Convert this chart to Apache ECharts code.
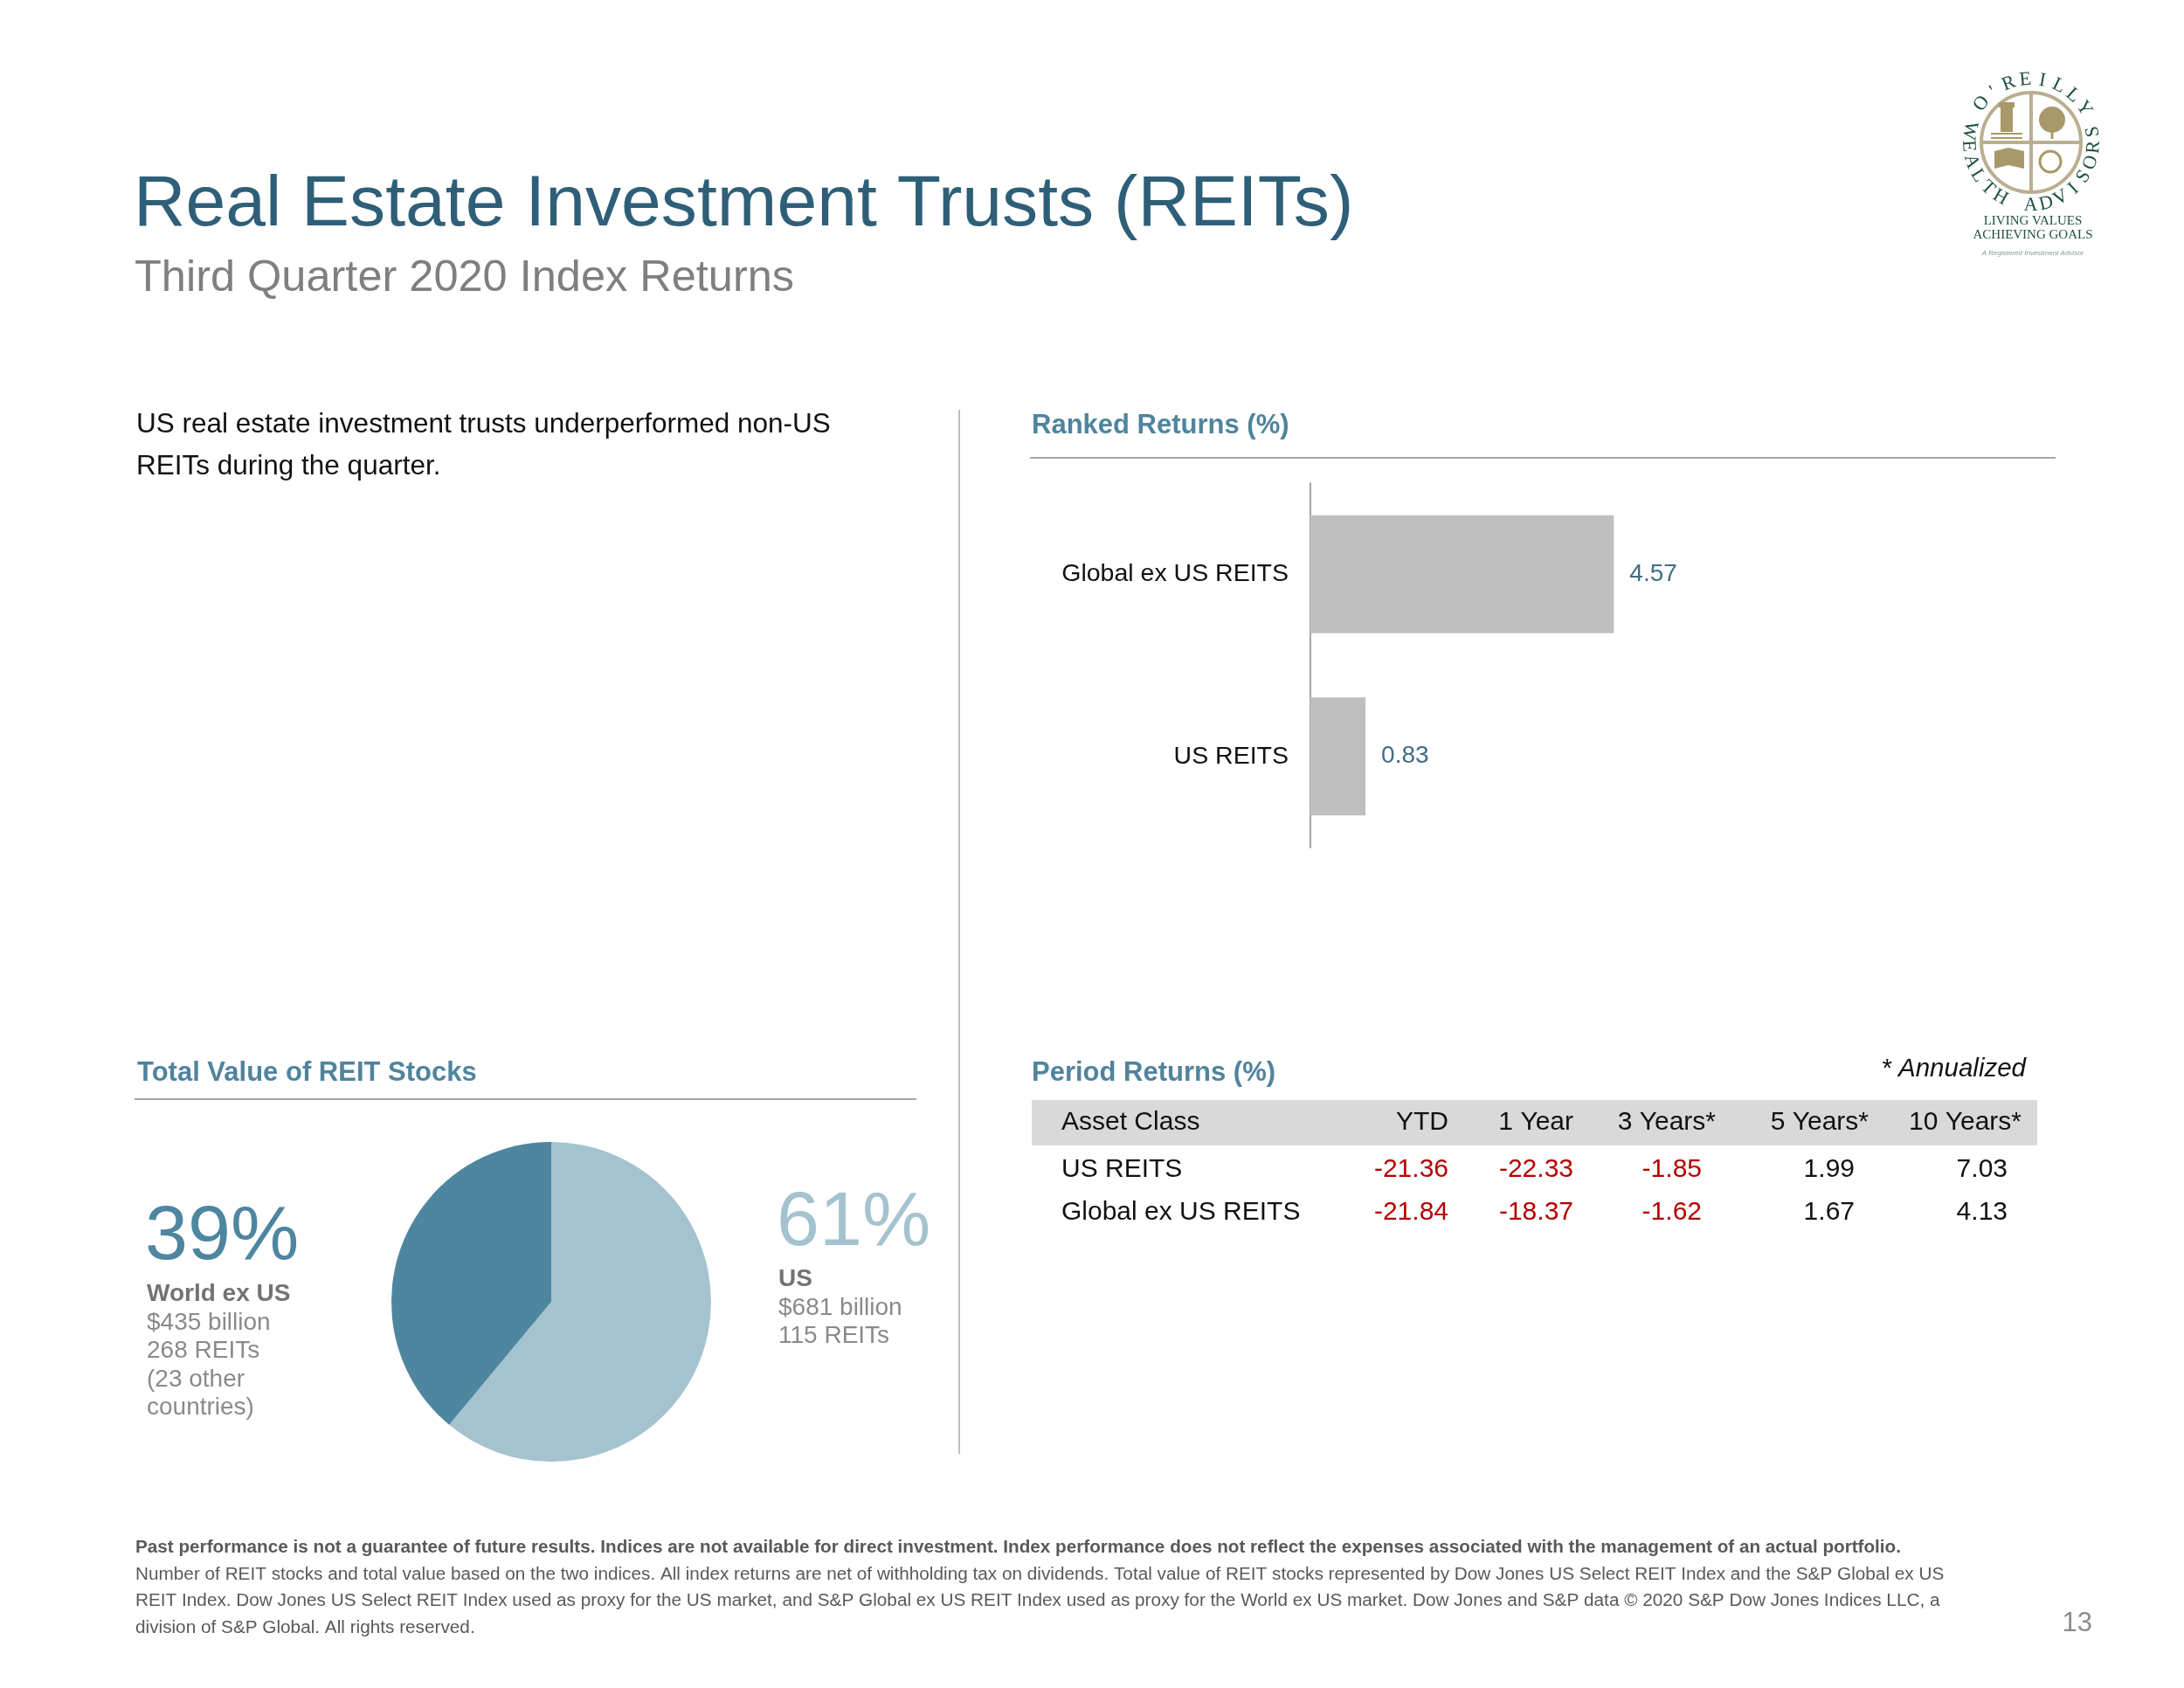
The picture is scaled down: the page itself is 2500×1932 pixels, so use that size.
<!DOCTYPE html>
<html><head><meta charset="utf-8">
<script src="https://cdn.jsdelivr.net/npm/echarts@6/dist/echarts.min.js"></script>
<style>html,body{margin:0;padding:0;background:#fff}#c{width:2500px;height:1932px}</style>
</head><body><div id="c"></div>
<script>
// ---------- DATA ----------
const rankedCategories = ['Global ex US REITS', 'US REITS'];
const rankedValues = [4.57, 0.83];

const pieNames = ['US', 'World ex US'];
const pieValues = [681, 435];           // $ billion
const piePercents = ['61%', '39%'];
const usDetails = ['$681 billion', '115 REITs'];
const worldDetails = ['$435 billion', '268 REITs', '(23 other', 'countries)'];

const tableHeaders = ['Asset Class', 'YTD', '1 Year', '3 Years*', '5 Years*', '10 Years*'];
const tableRowLabels = ['US REITS', 'Global ex US REITS'];
const tableValues = [
  [-21.36, -22.33, -1.85, 1.99, 7.03],
  [-21.84, -18.37, -1.62, 1.67, 4.13]
];

const titleText = 'Real Estate Investment Trusts (REITs)';
const subtitleText = 'Third Quarter 2020 Index Returns';
const descLines = ['US real estate investment trusts underperformed non-US', 'REITs during the quarter.'];
const footerBold = 'Past performance is not a guarantee of future results. Indices are not available for direct investment. Index performance does not reflect the expenses associated with the management of an actual portfolio.';
const footerLines = [
  'Number of REIT stocks and total value based on the two indices. All index returns are net of withholding tax on dividends. Total value of REIT stocks represented by Dow Jones US Select REIT Index and the S&P Global ex US',
  'REIT Index. Dow Jones US Select REIT Index used as proxy for the US market, and S&P Global ex US REIT Index used as proxy for the World ex US market. Dow Jones and S&P data \u00a9 2020 S&P Dow Jones Indices LLC, a',
  'division of S&P Global. All rights reserved.'
];

// ---------- STYLE ----------
const FONT = '"Liberation Sans", Arial, sans-serif';
const NARROW = '"Liberation Sans Narrow", "Arial Narrow", "Liberation Sans", sans-serif';
const SERIF = '"Liberation Serif", "DejaVu Serif", serif';
const TEAL_DARK = '#2F5F78';
const TEAL_SEC = '#4F849D';
const PIE_DARK = '#4E86A0';
const PIE_LIGHT = '#A5C3CF';
const GRAY = '#7F7F7F';

const g = [];
function txt(text, x, y, o) {
  o = o || {};
  g.push({
    type: 'text', x: x, y: y, rotation: o.rotation || 0, silent: true,
    style: {
      text: text,
      fill: o.color || '#000',
      fontSize: o.size || 27,
      fontFamily: o.family || FONT,
      fontWeight: o.weight || 'normal',
      fontStyle: o.style || 'normal',
      align: o.align || 'left',
      verticalAlign: 'middle'
    }
  });
}
function line(x1, y1, x2, y2, color, w) {
  g.push({ type: 'line', silent: true, shape: { x1: x1, y1: y1, x2: x2, y2: y2 }, style: { stroke: color, lineWidth: w } });
}

// Title block
txt(titleText, 153, 235, { size: 82.3, color: TEAL_DARK });
txt(subtitleText, 154, 319, { size: 50.5, color: GRAY });

// Description
descLines.forEach((l, i) => txt(l, 156, 486 + i * 48, { size: 31.5, color: '#111' }));

// Divider
line(1098, 469, 1098, 1664, '#BFBFBF', 2);

// Section titles
txt('Ranked Returns (%)', 1181, 487, { size: 31, weight: 'bold', color: TEAL_SEC });
line(1179, 524, 2353, 524, '#A6A6A6', 2);
txt('Total Value of REIT Stocks', 157, 1228, { size: 31, weight: 'bold', color: TEAL_SEC });
line(154, 1258, 1049, 1258, '#A6A6A6', 2);
txt('Period Returns (%)', 1181, 1228, { size: 31, weight: 'bold', color: TEAL_SEC });
txt('* Annualized', 2319, 1224, { size: 29.5, style: 'italic', align: 'right', color: '#111' });

// Table
g.push({ type: 'rect', silent: true, shape: { x: 1181, y: 1259, width: 1151, height: 52 }, style: { fill: '#D9D9D9' } });
const headX = [1215, 1658, 1801, 1964, 2139, 2314];
const valX = [1658, 1801, 1948, 2123, 2298];
tableHeaders.forEach((h, i) => txt(h, headX[i], 1285, { size: 30, align: i === 0 ? 'left' : 'right', color: '#111' }));
tableRowLabels.forEach((r, ri) => {
  const y = 1339 + ri * 48.5;
  txt(r, 1215, y, { size: 30, color: '#111' });
  tableValues[ri].forEach((v, ci) => txt(v.toFixed(2), valX[ci], y, { size: 30, align: 'right', color: v < 0 ? '#B40000' : '#111' }));
});

// Pie annotations
txt(piePercents[1], 166, 1417, { size: 88, color: PIE_DARK });
txt(pieNames[1], 168, 1481, { size: 28, weight: 'bold', color: '#737373' });
worldDetails.forEach((l, i) => txt(l, 168, 1514 + i * 32.5, { size: 28, color: '#8A8A8A' }));
txt(piePercents[0], 889, 1401, { size: 88, color: PIE_LIGHT });
txt(pieNames[0], 891, 1464, { size: 28, weight: 'bold', color: '#737373' });
usDetails.forEach((l, i) => txt(l, 891, 1497 + i * 32.5, { size: 28, color: '#8A8A8A' }));

// Footer
txt(footerBold, 155, 1771, { size: 20.7, family: NARROW, weight: 'bold', color: '#595959' });
footerLines.forEach((l, i) => txt(l, 155, 1802 + i * 30.5, { size: 20.75, family: NARROW, color: '#595959' }));
txt('13', 2395, 1858, { size: 31, align: 'right', color: '#8C8C8C' });

// Logo
(function () {
  const cx = 2325, cy = 163, r = 57, khaki = '#B9AF8F', gold = '#A8996A', green = '#1E5140';
  g.push({ type: 'circle', silent: true, shape: { cx: cx, cy: cy, r: r }, style: { fill: 'none', stroke: khaki, lineWidth: 4 } });
  line(cx - r, cy, cx + r, cy, khaki, 4);
  line(cx, cy - r, cx, cy + r, khaki, 4);
  // lighthouse
  g.push({ type: 'rect', silent: true, shape: { x: cx - 35, y: cy - 40, width: 14, height: 28 }, style: { fill: gold } });
  g.push({ type: 'rect', silent: true, shape: { x: cx - 37, y: cy - 46, width: 18, height: 6 }, style: { fill: gold } });
  line(cx - 46, cy - 10, cx - 10, cy - 10, gold, 2);
  line(cx - 46, cy - 5, cx - 10, cy - 5, gold, 2);
  // tree
  g.push({ type: 'circle', silent: true, shape: { cx: cx + 24, cy: cy - 26, r: 15 }, style: { fill: gold } });
  line(cx + 24, cy - 20, cx + 24, cy - 4, gold, 3);
  // book
  g.push({ type: 'polygon', silent: true, shape: { points: [[cx - 42, cy + 10], [cx - 26, cy + 6], [cx - 8, cy + 10], [cx - 8, cy + 30], [cx - 26, cy + 26], [cx - 42, cy + 30]] }, style: { fill: gold } });
  // trinity knot
  g.push({ type: 'circle', silent: true, shape: { cx: cx + 22, cy: cy + 22, r: 12 }, style: { fill: 'none', stroke: gold, lineWidth: 3 } });
  // arc letters
  const rt = 72;
  const top = "O'REILLY";
  for (let i = 0; i < top.length; i++) {
    const th = (-52 + i * 15.6) * Math.PI / 180;
    txt(top[i], cx + rt * Math.sin(th), cy - rt * Math.cos(th), { size: 22, family: SERIF, color: green, align: 'center', rotation: -th });
  }
  const bot = 'WEALTH ADVISORS';
  for (let i = 0; i < bot.length; i++) {
    if (bot[i] === ' ') continue;
    const deg = 281 - i * 14.36;
    const th = deg * Math.PI / 180;
    txt(bot[i], cx + rt * Math.sin(th), cy - rt * Math.cos(th), { size: 22, family: SERIF, color: green, align: 'center', rotation: -(th - Math.PI) });
  }
  txt('LIVING VALUES', cx + 2, 253, { size: 15, family: SERIF, color: green, align: 'center' });
  txt('ACHIEVING GOALS', cx + 2, 269, { size: 15, family: SERIF, color: green, align: 'center' });
  txt('A Registered Investment Advisor', cx + 2, 290, { size: 8, style: 'italic', color: '#8A9A8A', align: 'center' });
})();

const chart = echarts.init(document.getElementById('c'), null, { renderer: 'canvas' });
chart.setOption({
  backgroundColor: '#fff',
  animation: false,
  grid: { left: 1500, top: 553, width: 760, height: 417, containLabel: false },
  xAxis: { type: 'value', min: 0, max: 10, show: false },
  yAxis: {
    type: 'category', data: rankedCategories, inverse: true,
    axisLine: { show: true, lineStyle: { color: '#A6A6A6', width: 2 } },
    axisTick: { show: false },
    splitLine: { show: false },
    axisLabel: { fontSize: 28.5, color: '#111', margin: 25, fontFamily: FONT }
  },
  series: [
    {
      type: 'bar', data: rankedValues, barWidth: 135,
      itemStyle: { color: '#BFBFBF' },
      label: { show: true, position: 'right', distance: 18, color: '#3F6E85', fontSize: 28, fontFamily: FONT, formatter: p => p.value.toFixed(2) }
    },
    {
      type: 'pie', center: [631, 1490], radius: 183, startAngle: 90, clockwise: true,
      label: { show: false }, labelLine: { show: false }, silent: true,
      data: pieNames.map((n, i) => ({ name: n, value: pieValues[i], itemStyle: { color: i === 0 ? PIE_LIGHT : PIE_DARK } }))
    }
  ],
  graphic: g
});
</script></body></html>
